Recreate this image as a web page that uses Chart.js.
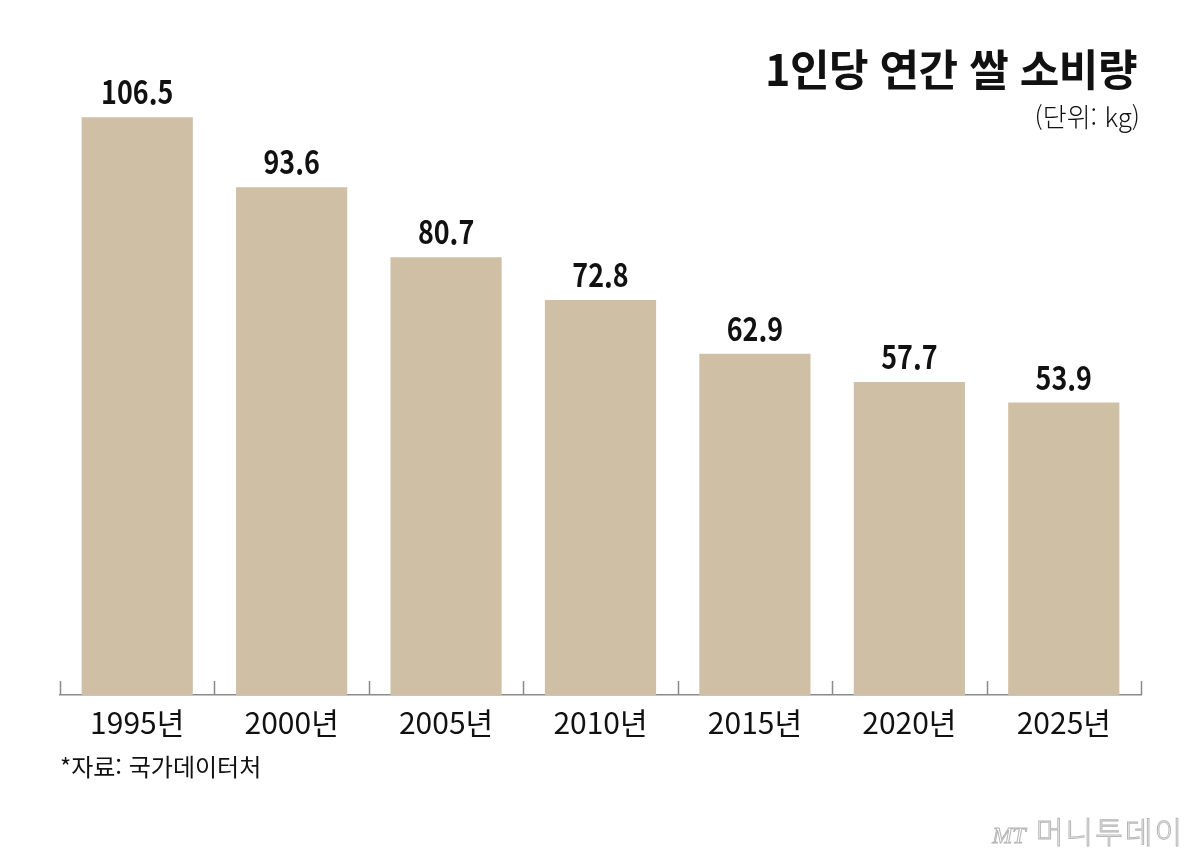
<!DOCTYPE html>
<html lang="ko">
<head>
<meta charset="utf-8">
<script src="https://cdn.jsdelivr.net/npm/chart.js@4"></script>
<style>
  body { margin: 0; background: #fff; }
  #wrap { position: relative; width: 1200px; height: 861px; overflow: hidden; }
  #chart { position: absolute; left: 0; top: 0; }
  .txt { position: absolute; white-space: nowrap; font-family: "Noto Sans CJK KR", sans-serif; color: #111; }
  #title { right: 63px; top: 36px; font-size: 43px; font-weight: 700; letter-spacing: -0.5px; }
  #unit { right: 60px; top: 97px; font-size: 26px; font-weight: 300; }
  #source { left: 60px; top: 748px; font-size: 24px; font-weight: 400; }
  #logo { right: 16px; top: 808px; font-size: 30px; font-weight: 300; color: #fff;
          -webkit-text-stroke: 1px #b5b5b5; letter-spacing: 2px; }
  #logo i { font-family: "Liberation Serif", serif; font-size: 24px; letter-spacing: 0; }
</style>
</head>
<body>
<div id="wrap">
  <canvas id="chart" width="1200" height="861"></canvas>
  <div class="txt" id="title">1인당 연간 쌀 소비량</div>
  <div class="txt" id="unit">(단위: kg)</div>
  <div class="txt" id="source">*자료: 국가데이터처</div>
  <div class="txt" id="logo"><i>MT</i> 머니투데이</div>
</div>
<script>
// 1인당 연간 쌀 소비량 (kg)
const years = ['1995년', '2000년', '2005년', '2010년', '2015년', '2020년', '2025년'];
const consumption = [106.5, 93.6, 80.7, 72.8, 62.9, 57.7, 53.9];

const labelFont = '"Noto Sans CJK KR", sans-serif';

// valores encima de cada barra (un poco estrechados)
const valueLabels = {
    id: 'valueLabels',
    afterDatasetsDraw(chart) {
        const ctx = chart.ctx;
        const meta = chart.getDatasetMeta(0);
        meta.data.forEach((bar, i) => {
            ctx.save();
            ctx.font = 'bold 32px ' + labelFont;
            ctx.fillStyle = '#111';
            ctx.textAlign = 'center';
            ctx.textBaseline = 'alphabetic';
            ctx.translate(bar.x, bar.y - 13);
            ctx.scale(0.84, 1);
            ctx.fillText(consumption[i].toFixed(1), 0, 0);
            ctx.restore();
        });
    }
};

// marcas cortas entre categorias, hacia arriba
const tickMarks = {
    id: 'tickMarks',
    afterDraw(chart) {
        const ctx = chart.ctx;
        const xs = chart.scales.x;
        const bottom = chart.chartArea.bottom;
        const step = xs.width / years.length;
        ctx.save();
        ctx.strokeStyle = '#8a8a8a';
        ctx.lineWidth = 1.5;
        for (let i = 0; i <= years.length; i++) {
            const px = Math.round(xs.getPixelForValue(0) - step / 2 + i * step) + 0.5;
            ctx.beginPath();
            ctx.moveTo(px, bottom);
            ctx.lineTo(px, bottom - 14);
            ctx.stroke();
        }
        ctx.restore();
    }
};

new Chart(document.getElementById('chart'), {
    type: 'bar',
    data: {
        labels: years,
        datasets: [{
            data: consumption,
            backgroundColor: '#cfbfa5',
            categoryPercentage: 1,
            barPercentage: 0.72
        }]
    },
    options: {
        responsive: false,
        animation: false,
        layout: {
            padding: { left: 60, right: 59, top: 44, bottom: 110 }
        },
        plugins: {
            legend: { display: false },
            tooltip: { enabled: false }
        },
        scales: {
            x: {
                grid: { display: true, drawOnChartArea: false, drawTicks: false },
                border: { display: true, color: '#8a8a8a', width: 1.5 },
                ticks: {
                    color: '#111',
                    padding: 10,
                    font: { family: labelFont, size: 30 }
                }
            },
            y: {
                display: false,
                min: 0,
                max: 120
            }
        }
    },
    plugins: [valueLabels, tickMarks]
});
</script>
</body>
</html>
